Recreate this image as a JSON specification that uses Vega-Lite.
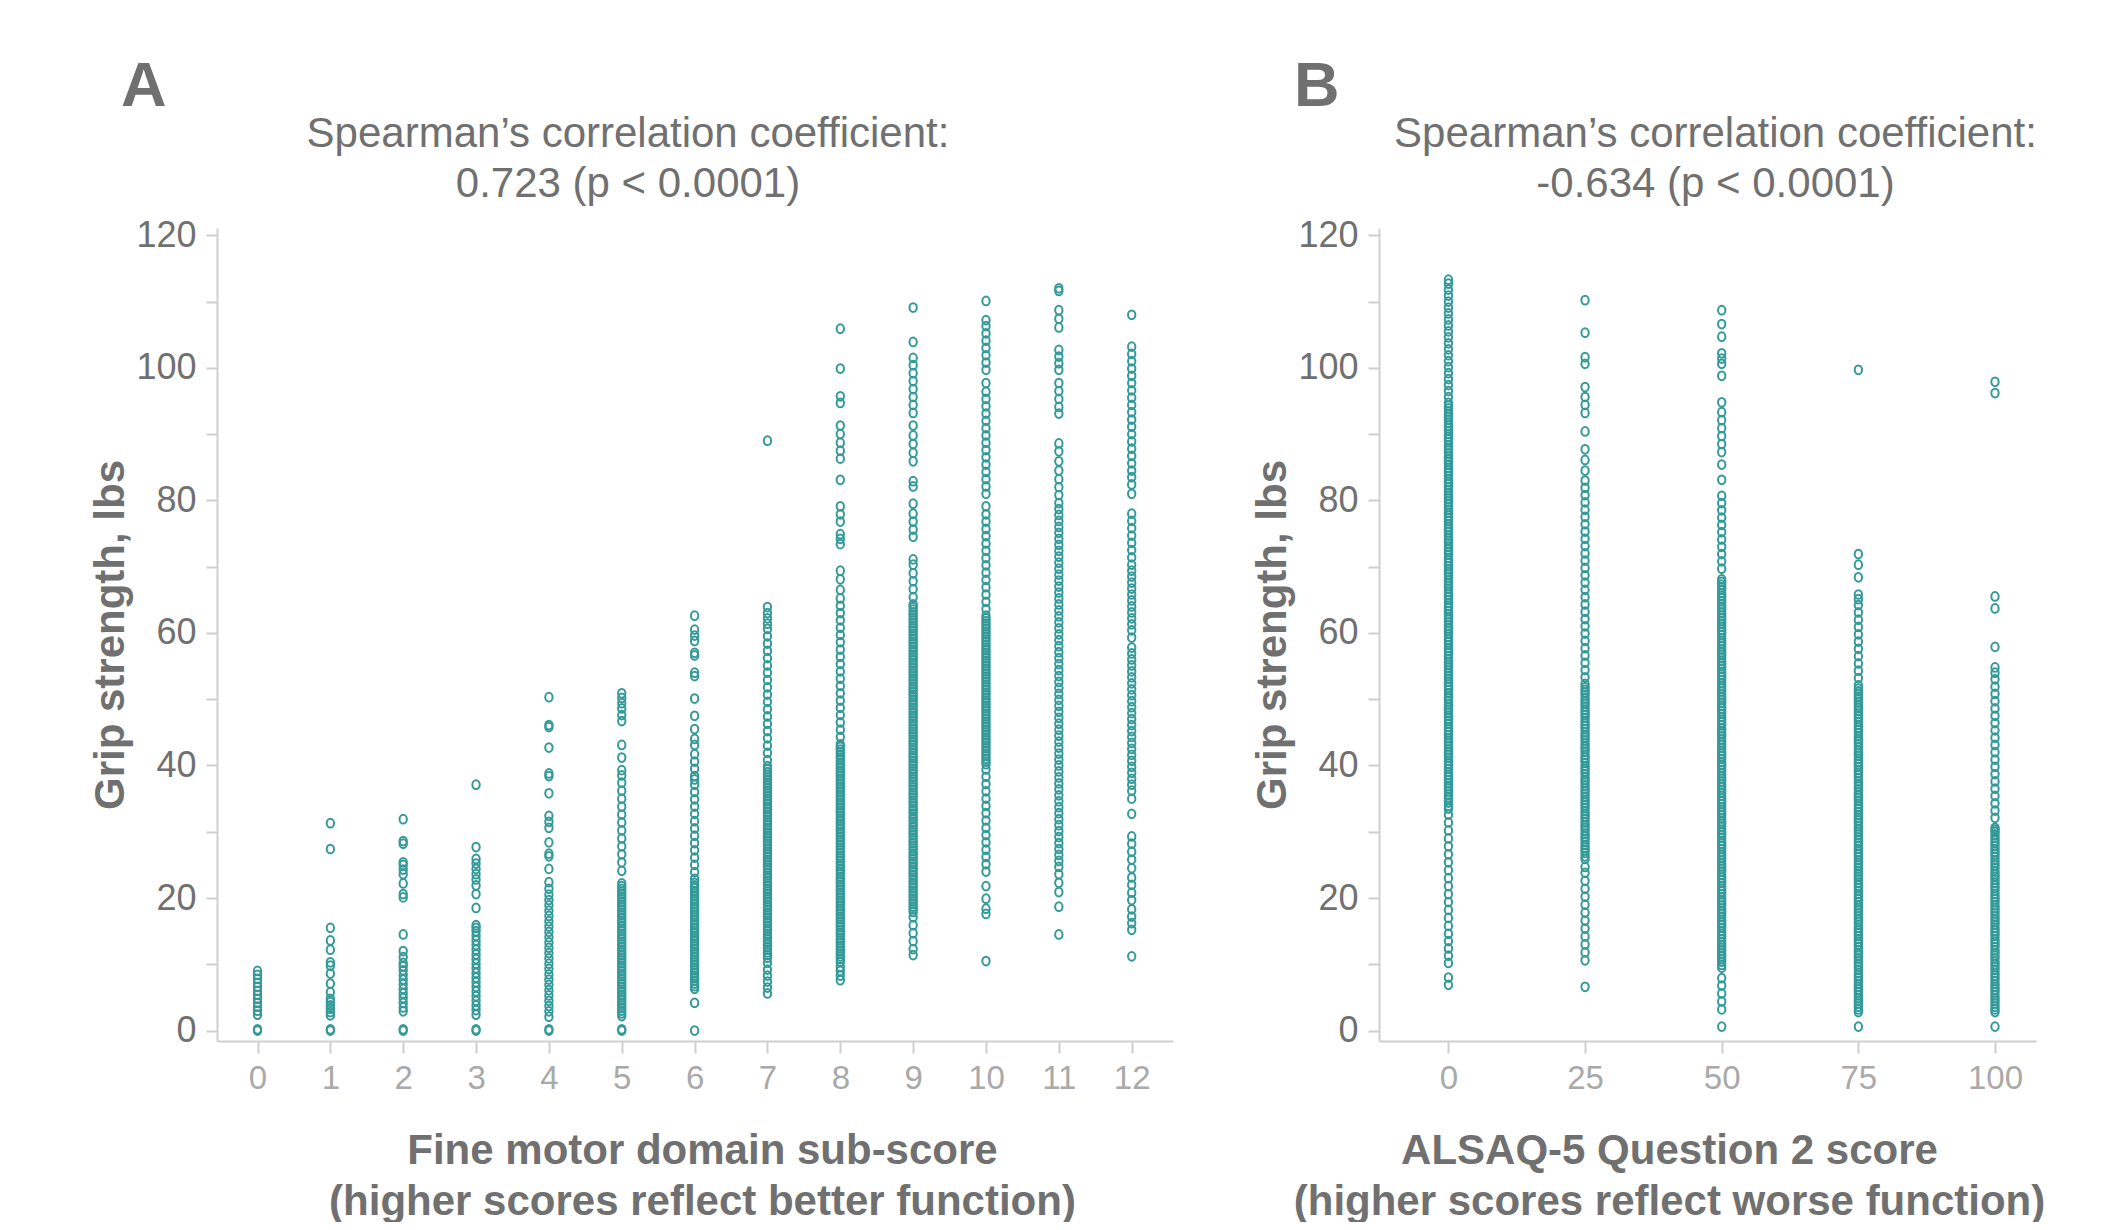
{
"$schema": "https://vega.github.io/schema/vega-lite/v6.json",
"background": "white",
"padding": {"left": 89, "top": 56, "right": 0, "bottom": 0},
"spacing": 78,
"config": {
  "view": {"stroke": null},
  "font": "Liberation Sans",
  "axis": {"grid": false, "domainColor": "#cfcfcf", "domainWidth": 2, "tickColor": "#cfcfcf", "tickWidth": 2, "titleFont": "Liberation Sans", "titleFontSize": 42, "titleFontWeight": "bold", "titleColor": "#707070", "labelFont": "Liberation Sans", "labelOverlap": false, "labelFlush": false},
  "axisX": {"labelFontSize": 33, "labelColor": "#a9a9a9", "tickSize": 12, "labelPadding": 9, "titlePadding": 35, "titleLineHeight": 51, "labelAngle": 0},
  "axisY": {"labelFontSize": 36, "labelColor": "#707070", "tickSize": 11, "labelPadding": 10, "titlePadding": 3},
  "title": {"font": "Liberation Sans", "color": "#707070"}
},
"datasets": {
"a": [
{"s":0,"g":0},{"s":0,"g":0.2},{"s":0,"g":2.4},{"s":0,"g":3.0},{"s":0,"g":3.6},{"s":0,"g":4.2},{"s":0,"g":4.8},{"s":0,"g":5.4},{"s":0,"g":6.0},{"s":0,"g":6.6},{"s":0,"g":7.2},{"s":0,"g":7.8},{"s":0,"g":8.4},{"s":0,"g":9.0},
{"s":1,"g":0},{"s":1,"g":0.2},{"s":1,"g":2.3},{"s":1,"g":2.8},{"s":1,"g":3.3},{"s":1,"g":3.8},{"s":1,"g":4.3},{"s":1,"g":4.8},{"s":1,"g":5.8},{"s":1,"g":7.1},{"s":1,"g":8.6},{"s":1,"g":9.8},{"s":1,"g":10.3},{"s":1,"g":12.2},{"s":1,"g":13.6},{"s":1,"g":15.5},{"s":1,"g":27.4},{"s":1,"g":31.3},
{"s":2,"g":0},{"s":2,"g":0.2},{"s":2,"g":2.9},{"s":2,"g":3.5},{"s":2,"g":4.2},{"s":2,"g":4.9},{"s":2,"g":5.6},{"s":2,"g":6.3},{"s":2,"g":7.0},{"s":2,"g":7.7},{"s":2,"g":8.4},{"s":2,"g":9.1},{"s":2,"g":9.7},{"s":2,"g":10.2},{"s":2,"g":11.1},{"s":2,"g":12.0},{"s":2,"g":14.5},{"s":2,"g":20.1},{"s":2,"g":20.6},{"s":2,"g":22.2},{"s":2,"g":23.6},{"s":2,"g":24.3},{"s":2,"g":25.0},{"s":2,"g":25.4},{"s":2,"g":28.2},{"s":2,"g":28.6},{"s":2,"g":31.9},
{"s":3,"g":0},{"s":3,"g":0.2},{"s":3,"g":2.4},{"s":3,"g":3.1},{"s":3,"g":3.8},{"s":3,"g":4.5},{"s":3,"g":5.2},{"s":3,"g":5.9},{"s":3,"g":6.6},{"s":3,"g":7.3},{"s":3,"g":8.0},{"s":3,"g":8.7},{"s":3,"g":9.4},{"s":3,"g":10.1},{"s":3,"g":10.8},{"s":3,"g":11.5},{"s":3,"g":12.2},{"s":3,"g":12.9},{"s":3,"g":13.6},{"s":3,"g":14.3},{"s":3,"g":15.0},{"s":3,"g":15.5},{"s":3,"g":15.9},{"s":3,"g":18.5},{"s":3,"g":20.6},{"s":3,"g":21.9},{"s":3,"g":22.8},{"s":3,"g":23.6},{"s":3,"g":24.4},{"s":3,"g":25.2},{"s":3,"g":25.9},{"s":3,"g":27.7},{"s":3,"g":37.1},
{"s":4,"g":0},{"s":4,"g":0.2},{"s":4,"g":2.1},{"s":4,"g":2.9},{"s":4,"g":3.7},{"s":4,"g":4.5},{"s":4,"g":5.3},{"s":4,"g":6.1},{"s":4,"g":6.9},{"s":4,"g":7.7},{"s":4,"g":8.5},{"s":4,"g":9.3},{"s":4,"g":10.1},{"s":4,"g":10.9},{"s":4,"g":11.7},{"s":4,"g":12.5},{"s":4,"g":13.3},{"s":4,"g":14.1},{"s":4,"g":14.9},{"s":4,"g":15.7},{"s":4,"g":16.5},{"s":4,"g":17.3},{"s":4,"g":18.1},{"s":4,"g":18.9},{"s":4,"g":19.7},{"s":4,"g":20.5},{"s":4,"g":21.4},{"s":4,"g":22.4},{"s":4,"g":24.4},{"s":4,"g":26.3},{"s":4,"g":26.7},{"s":4,"g":28.4},{"s":4,"g":30.6},{"s":4,"g":31.5},{"s":4,"g":32.4},{"s":4,"g":35.8},{"s":4,"g":38.4},{"s":4,"g":38.8},{"s":4,"g":42.7},{"s":4,"g":45.8},{"s":4,"g":46.1},{"s":4,"g":50.3},
{"s":5,"g":0},{"s":5,"g":0.2},{"s":5,"g":2.2},{"s":5,"g":3.0},{"s":5,"g":3.8},{"s":5,"g":4.6},{"s":5,"g":5.4},{"s":5,"g":6.2},{"s":5,"g":7.0},{"s":5,"g":7.8},{"s":5,"g":8.6},{"s":5,"g":9.4},{"s":5,"g":10.2},{"s":5,"g":11.0},{"s":5,"g":11.8},{"s":5,"g":12.6},{"s":5,"g":13.4},{"s":5,"g":14.2},{"s":5,"g":15.0},{"s":5,"g":15.8},{"s":5,"g":16.6},{"s":5,"g":17.4},{"s":5,"g":18.2},{"s":5,"g":19.0},{"s":5,"g":19.8},{"s":5,"g":20.6},{"s":5,"g":21.4},{"s":5,"g":22.2},{"s":5,"g":24.1},{"s":5,"g":25.4},{"s":5,"g":26.6},{"s":5,"g":27.8},{"s":5,"g":29.0},{"s":5,"g":30.2},{"s":5,"g":31.4},{"s":5,"g":32.6},{"s":5,"g":33.8},{"s":5,"g":35.0},{"s":5,"g":36.2},{"s":5,"g":37.4},{"s":5,"g":38.5},{"s":5,"g":39.3},{"s":5,"g":41.2},{"s":5,"g":43.1},{"s":5,"g":46.7},{"s":5,"g":47.6},{"s":5,"g":48.6},{"s":5,"g":49.4},{"s":5,"g":50.2},{"s":5,"g":50.9},
{"s":5,"g":2.6},{"s":5,"g":3.4},{"s":5,"g":4.2},{"s":5,"g":5.0},{"s":5,"g":5.8},{"s":5,"g":6.6},{"s":5,"g":7.4},{"s":5,"g":8.2},{"s":5,"g":9.0},{"s":5,"g":9.8},{"s":5,"g":10.6},{"s":5,"g":11.4},{"s":5,"g":12.2},{"s":5,"g":13.0},{"s":5,"g":13.8},{"s":5,"g":14.6},{"s":5,"g":15.4},{"s":5,"g":16.2},{"s":5,"g":17.0},{"s":5,"g":17.8},{"s":5,"g":18.6},{"s":5,"g":19.4},{"s":5,"g":20.2},{"s":5,"g":21.0},{"s":5,"g":21.8},
{"s":6,"g":0},{"s":6,"g":4.2},{"s":6,"g":6.3},{"s":6,"g":7.1},{"s":6,"g":7.9},{"s":6,"g":8.7},{"s":6,"g":9.5},{"s":6,"g":10.3},{"s":6,"g":11.1},{"s":6,"g":11.9},{"s":6,"g":12.7},{"s":6,"g":13.5},{"s":6,"g":14.3},{"s":6,"g":15.1},{"s":6,"g":15.9},{"s":6,"g":16.7},{"s":6,"g":17.5},{"s":6,"g":18.3},{"s":6,"g":19.1},{"s":6,"g":19.9},{"s":6,"g":20.7},{"s":6,"g":21.5},{"s":6,"g":22.3},{"s":6,"g":22.9},{"s":6,"g":23.9},{"s":6,"g":25.0},{"s":6,"g":26.1},{"s":6,"g":27.2},{"s":6,"g":28.3},{"s":6,"g":29.4},{"s":6,"g":30.5},{"s":6,"g":31.6},{"s":6,"g":32.7},{"s":6,"g":33.8},{"s":6,"g":34.9},{"s":6,"g":36.0},{"s":6,"g":37.1},{"s":6,"g":37.9},{"s":6,"g":38.4},{"s":6,"g":39.5},{"s":6,"g":40.6},{"s":6,"g":41.7},{"s":6,"g":43.1},{"s":6,"g":44.0},{"s":6,"g":45.5},{"s":6,"g":47.5},{"s":6,"g":50.1},{"s":6,"g":53.5},{"s":6,"g":54.0},{"s":6,"g":56.6},{"s":6,"g":57.0},{"s":6,"g":58.8},{"s":6,"g":59.6},{"s":6,"g":60.5},{"s":6,"g":62.6},
{"s":6,"g":6.7},{"s":6,"g":7.5},{"s":6,"g":8.3},{"s":6,"g":9.1},{"s":6,"g":9.9},{"s":6,"g":10.7},{"s":6,"g":11.5},{"s":6,"g":12.3},{"s":6,"g":13.1},{"s":6,"g":13.9},{"s":6,"g":14.7},{"s":6,"g":15.5},{"s":6,"g":16.3},{"s":6,"g":17.1},{"s":6,"g":17.9},{"s":6,"g":18.7},{"s":6,"g":19.5},{"s":6,"g":20.3},{"s":6,"g":21.1},{"s":6,"g":21.9},
{"s":7,"g":5.6},{"s":7,"g":6.5},{"s":7,"g":7.4},{"s":7,"g":8.3},{"s":7,"g":9.2},{"s":7,"g":10.2},{"s":7,"g":11.0},{"s":7,"g":11.8},{"s":7,"g":12.6},{"s":7,"g":13.4},{"s":7,"g":14.2},{"s":7,"g":15.0},{"s":7,"g":15.8},{"s":7,"g":16.6},{"s":7,"g":17.4},{"s":7,"g":18.2},{"s":7,"g":19.0},{"s":7,"g":19.8},{"s":7,"g":20.6},{"s":7,"g":21.4},{"s":7,"g":22.2},{"s":7,"g":23.0},{"s":7,"g":23.8},{"s":7,"g":24.6},{"s":7,"g":25.4},{"s":7,"g":26.2},{"s":7,"g":27.0},{"s":7,"g":27.8},{"s":7,"g":28.6},{"s":7,"g":29.4},{"s":7,"g":30.2},{"s":7,"g":31.0},{"s":7,"g":31.8},{"s":7,"g":32.6},{"s":7,"g":33.4},{"s":7,"g":34.2},{"s":7,"g":35.0},{"s":7,"g":35.8},{"s":7,"g":36.6},{"s":7,"g":37.4},{"s":7,"g":38.2},{"s":7,"g":39.0},{"s":7,"g":39.9},{"s":7,"g":40.8},{"s":7,"g":41.9},{"s":7,"g":43.0},{"s":7,"g":44.1},{"s":7,"g":45.2},{"s":7,"g":46.3},{"s":7,"g":47.4},{"s":7,"g":48.5},{"s":7,"g":49.6},{"s":7,"g":50.7},{"s":7,"g":51.8},{"s":7,"g":52.9},{"s":7,"g":54.0},{"s":7,"g":55.1},{"s":7,"g":56.2},{"s":7,"g":57.3},{"s":7,"g":58.4},{"s":7,"g":59.5},{"s":7,"g":60.6},{"s":7,"g":61.4},{"s":7,"g":62.2},{"s":7,"g":63.0},{"s":7,"g":63.9},{"s":7,"g":89.0},
{"s":7,"g":11.4},{"s":7,"g":12.2},{"s":7,"g":13.0},{"s":7,"g":13.8},{"s":7,"g":14.6},{"s":7,"g":15.4},{"s":7,"g":16.2},{"s":7,"g":17.0},{"s":7,"g":17.8},{"s":7,"g":18.6},{"s":7,"g":19.4},{"s":7,"g":20.2},{"s":7,"g":21.0},{"s":7,"g":21.8},{"s":7,"g":22.6},{"s":7,"g":23.4},{"s":7,"g":24.2},{"s":7,"g":25.0},{"s":7,"g":25.8},{"s":7,"g":26.6},{"s":7,"g":27.4},{"s":7,"g":28.2},{"s":7,"g":29.0},{"s":7,"g":29.8},{"s":7,"g":30.6},{"s":7,"g":31.4},{"s":7,"g":32.2},{"s":7,"g":33.0},{"s":7,"g":33.8},{"s":7,"g":34.6},{"s":7,"g":35.4},{"s":7,"g":36.2},{"s":7,"g":37.0},{"s":7,"g":37.8},{"s":7,"g":38.6},{"s":7,"g":39.4},
{"s":8,"g":7.6},{"s":8,"g":8.3},{"s":8,"g":9.0},{"s":8,"g":9.6},{"s":8,"g":10.4},{"s":8,"g":11.2},{"s":8,"g":12.0},{"s":8,"g":12.8},{"s":8,"g":13.6},{"s":8,"g":14.4},{"s":8,"g":15.2},{"s":8,"g":16.0},{"s":8,"g":16.8},{"s":8,"g":17.6},{"s":8,"g":18.4},{"s":8,"g":19.2},{"s":8,"g":20.0},{"s":8,"g":20.8},{"s":8,"g":21.6},{"s":8,"g":22.4},{"s":8,"g":23.2},{"s":8,"g":24.0},{"s":8,"g":24.8},{"s":8,"g":25.6},{"s":8,"g":26.4},{"s":8,"g":27.2},{"s":8,"g":28.0},{"s":8,"g":28.8},{"s":8,"g":29.6},{"s":8,"g":30.4},{"s":8,"g":31.2},{"s":8,"g":32.0},{"s":8,"g":32.8},{"s":8,"g":33.6},{"s":8,"g":34.4},{"s":8,"g":35.2},{"s":8,"g":36.0},{"s":8,"g":36.8},{"s":8,"g":37.6},{"s":8,"g":38.4},{"s":8,"g":39.2},{"s":8,"g":40.0},{"s":8,"g":40.8},{"s":8,"g":41.6},{"s":8,"g":42.4},{"s":8,"g":43.2},{"s":8,"g":44.3},{"s":8,"g":45.4},{"s":8,"g":46.5},{"s":8,"g":47.6},{"s":8,"g":48.7},{"s":8,"g":49.8},{"s":8,"g":50.9},{"s":8,"g":52.0},{"s":8,"g":53.1},{"s":8,"g":54.2},{"s":8,"g":55.3},{"s":8,"g":56.4},{"s":8,"g":57.5},{"s":8,"g":58.6},{"s":8,"g":59.7},{"s":8,"g":60.8},{"s":8,"g":61.9},{"s":8,"g":63.0},{"s":8,"g":64.1},{"s":8,"g":65.2},{"s":8,"g":66.5},{"s":8,"g":68.1},{"s":8,"g":69.4},{"s":8,"g":73.4},{"s":8,"g":74.2},{"s":8,"g":74.9},{"s":8,"g":76.8},{"s":8,"g":77.9},{"s":8,"g":79.1},{"s":8,"g":83.1},{"s":8,"g":86.3},{"s":8,"g":87.5},{"s":8,"g":88.7},{"s":8,"g":90.0},{"s":8,"g":91.3},{"s":8,"g":94.7},{"s":8,"g":95.7},{"s":8,"g":99.9},{"s":8,"g":105.9},
{"s":8,"g":10.8},{"s":8,"g":11.6},{"s":8,"g":12.4},{"s":8,"g":13.2},{"s":8,"g":14.0},{"s":8,"g":14.8},{"s":8,"g":15.6},{"s":8,"g":16.4},{"s":8,"g":17.2},{"s":8,"g":18.0},{"s":8,"g":18.8},{"s":8,"g":19.6},{"s":8,"g":20.4},{"s":8,"g":21.2},{"s":8,"g":22.0},{"s":8,"g":22.8},{"s":8,"g":23.6},{"s":8,"g":24.4},{"s":8,"g":25.2},{"s":8,"g":26.0},{"s":8,"g":26.8},{"s":8,"g":27.6},{"s":8,"g":28.4},{"s":8,"g":29.2},{"s":8,"g":30.0},{"s":8,"g":30.8},{"s":8,"g":31.6},{"s":8,"g":32.4},{"s":8,"g":33.2},{"s":8,"g":34.0},{"s":8,"g":34.8},{"s":8,"g":35.6},{"s":8,"g":36.4},{"s":8,"g":37.2},{"s":8,"g":38.0},{"s":8,"g":38.8},{"s":8,"g":39.6},{"s":8,"g":40.4},{"s":8,"g":41.2},{"s":8,"g":42.0},{"s":8,"g":42.8},
{"s":9,"g":11.4},{"s":9,"g":12.3},{"s":9,"g":13.5},{"s":9,"g":14.7},{"s":9,"g":15.9},{"s":9,"g":17.1},{"s":9,"g":17.9},{"s":9,"g":18.7},{"s":9,"g":19.5},{"s":9,"g":20.3},{"s":9,"g":21.1},{"s":9,"g":21.9},{"s":9,"g":22.7},{"s":9,"g":23.5},{"s":9,"g":24.3},{"s":9,"g":25.1},{"s":9,"g":25.9},{"s":9,"g":26.7},{"s":9,"g":27.5},{"s":9,"g":28.3},{"s":9,"g":29.1},{"s":9,"g":29.9},{"s":9,"g":30.7},{"s":9,"g":31.5},{"s":9,"g":32.3},{"s":9,"g":33.1},{"s":9,"g":33.9},{"s":9,"g":34.7},{"s":9,"g":35.5},{"s":9,"g":36.3},{"s":9,"g":37.1},{"s":9,"g":37.9},{"s":9,"g":38.7},{"s":9,"g":39.5},{"s":9,"g":40.3},{"s":9,"g":41.1},{"s":9,"g":41.9},{"s":9,"g":42.7},{"s":9,"g":43.5},{"s":9,"g":44.3},{"s":9,"g":45.1},{"s":9,"g":45.9},{"s":9,"g":46.7},{"s":9,"g":47.5},{"s":9,"g":48.3},{"s":9,"g":49.1},{"s":9,"g":49.9},{"s":9,"g":50.7},{"s":9,"g":51.5},{"s":9,"g":52.3},{"s":9,"g":53.1},{"s":9,"g":53.9},{"s":9,"g":54.7},{"s":9,"g":55.5},{"s":9,"g":56.3},{"s":9,"g":57.1},{"s":9,"g":57.9},{"s":9,"g":58.7},{"s":9,"g":59.5},{"s":9,"g":60.3},{"s":9,"g":61.1},{"s":9,"g":61.9},{"s":9,"g":62.7},{"s":9,"g":63.5},{"s":9,"g":64.3},{"s":9,"g":65.4},{"s":9,"g":66.6},{"s":9,"g":67.8},{"s":9,"g":69.0},{"s":9,"g":70.3},{"s":9,"g":71.1},{"s":9,"g":74.5},{"s":9,"g":75.6},{"s":9,"g":76.8},{"s":9,"g":78.0},{"s":9,"g":79.5},{"s":9,"g":82.1},{"s":9,"g":82.9},{"s":9,"g":85.9},{"s":9,"g":87.2},{"s":9,"g":88.5},{"s":9,"g":89.8},{"s":9,"g":91.3},{"s":9,"g":93.2},{"s":9,"g":94.4},{"s":9,"g":95.6},{"s":9,"g":96.8},{"s":9,"g":98.0},{"s":9,"g":99.2},{"s":9,"g":100.4},{"s":9,"g":101.5},{"s":9,"g":103.9},{"s":9,"g":109.1},
{"s":9,"g":18.3},{"s":9,"g":19.1},{"s":9,"g":19.9},{"s":9,"g":20.7},{"s":9,"g":21.5},{"s":9,"g":22.3},{"s":9,"g":23.1},{"s":9,"g":23.9},{"s":9,"g":24.7},{"s":9,"g":25.5},{"s":9,"g":26.3},{"s":9,"g":27.1},{"s":9,"g":27.9},{"s":9,"g":28.7},{"s":9,"g":29.5},{"s":9,"g":30.3},{"s":9,"g":31.1},{"s":9,"g":31.9},{"s":9,"g":32.7},{"s":9,"g":33.5},{"s":9,"g":34.3},{"s":9,"g":35.1},{"s":9,"g":35.9},{"s":9,"g":36.7},{"s":9,"g":37.5},{"s":9,"g":38.3},{"s":9,"g":39.1},{"s":9,"g":39.9},{"s":9,"g":40.7},{"s":9,"g":41.5},{"s":9,"g":42.3},{"s":9,"g":43.1},{"s":9,"g":43.9},{"s":9,"g":44.7},{"s":9,"g":45.5},{"s":9,"g":46.3},{"s":9,"g":47.1},{"s":9,"g":47.9},{"s":9,"g":48.7},{"s":9,"g":49.5},{"s":9,"g":50.3},{"s":9,"g":51.1},{"s":9,"g":51.9},{"s":9,"g":52.7},{"s":9,"g":53.5},{"s":9,"g":54.3},{"s":9,"g":55.1},{"s":9,"g":55.9},{"s":9,"g":56.7},{"s":9,"g":57.5},{"s":9,"g":58.3},{"s":9,"g":59.1},{"s":9,"g":59.9},{"s":9,"g":60.7},{"s":9,"g":61.5},{"s":9,"g":62.3},{"s":9,"g":63.1},{"s":9,"g":63.9},
{"s":10,"g":10.5},{"s":10,"g":17.6},{"s":10,"g":18.4},{"s":10,"g":19.9},{"s":10,"g":21.8},{"s":10,"g":24.0},{"s":10,"g":25.1},{"s":10,"g":26.2},{"s":10,"g":27.3},{"s":10,"g":28.4},{"s":10,"g":29.5},{"s":10,"g":30.6},{"s":10,"g":31.7},{"s":10,"g":32.8},{"s":10,"g":33.9},{"s":10,"g":35.0},{"s":10,"g":36.1},{"s":10,"g":37.2},{"s":10,"g":38.3},{"s":10,"g":39.4},{"s":10,"g":40.2},{"s":10,"g":41.0},{"s":10,"g":41.8},{"s":10,"g":42.6},{"s":10,"g":43.4},{"s":10,"g":44.2},{"s":10,"g":45.0},{"s":10,"g":45.8},{"s":10,"g":46.6},{"s":10,"g":47.4},{"s":10,"g":48.2},{"s":10,"g":49.0},{"s":10,"g":49.8},{"s":10,"g":50.6},{"s":10,"g":51.4},{"s":10,"g":52.2},{"s":10,"g":53.0},{"s":10,"g":53.8},{"s":10,"g":54.6},{"s":10,"g":55.4},{"s":10,"g":56.2},{"s":10,"g":57.0},{"s":10,"g":57.8},{"s":10,"g":58.6},{"s":10,"g":59.4},{"s":10,"g":60.2},{"s":10,"g":61.0},{"s":10,"g":61.8},{"s":10,"g":62.6},{"s":10,"g":63.6},{"s":10,"g":64.7},{"s":10,"g":65.8},{"s":10,"g":66.9},{"s":10,"g":68.0},{"s":10,"g":69.1},{"s":10,"g":70.2},{"s":10,"g":71.3},{"s":10,"g":72.4},{"s":10,"g":73.5},{"s":10,"g":74.6},{"s":10,"g":75.7},{"s":10,"g":76.8},{"s":10,"g":77.9},{"s":10,"g":79.1},{"s":10,"g":81.0},{"s":10,"g":82.1},{"s":10,"g":83.2},{"s":10,"g":84.3},{"s":10,"g":85.4},{"s":10,"g":86.5},{"s":10,"g":87.6},{"s":10,"g":88.7},{"s":10,"g":89.8},{"s":10,"g":90.9},{"s":10,"g":92.0},{"s":10,"g":93.1},{"s":10,"g":94.2},{"s":10,"g":95.3},{"s":10,"g":96.4},{"s":10,"g":97.7},{"s":10,"g":99.7},{"s":10,"g":100.8},{"s":10,"g":101.9},{"s":10,"g":103.0},{"s":10,"g":104.1},{"s":10,"g":105.2},{"s":10,"g":106.3},{"s":10,"g":107.2},{"s":10,"g":110.1},
{"s":10,"g":40.6},{"s":10,"g":41.4},{"s":10,"g":42.2},{"s":10,"g":43.0},{"s":10,"g":43.8},{"s":10,"g":44.6},{"s":10,"g":45.4},{"s":10,"g":46.2},{"s":10,"g":47.0},{"s":10,"g":47.8},{"s":10,"g":48.6},{"s":10,"g":49.4},{"s":10,"g":50.2},{"s":10,"g":51.0},{"s":10,"g":51.8},{"s":10,"g":52.6},{"s":10,"g":53.4},{"s":10,"g":54.2},{"s":10,"g":55.0},{"s":10,"g":55.8},{"s":10,"g":56.6},{"s":10,"g":57.4},{"s":10,"g":58.2},{"s":10,"g":59.0},{"s":10,"g":59.8},{"s":10,"g":60.6},{"s":10,"g":61.4},{"s":10,"g":62.2},
{"s":11,"g":14.5},{"s":11,"g":18.7},{"s":11,"g":20.9},{"s":11,"g":22.3},{"s":11,"g":23.6},{"s":11,"g":24.7},{"s":11,"g":25.6},{"s":11,"g":26.5},{"s":11,"g":27.4},{"s":11,"g":28.3},{"s":11,"g":29.2},{"s":11,"g":30.1},{"s":11,"g":31.0},{"s":11,"g":31.9},{"s":11,"g":32.8},{"s":11,"g":33.7},{"s":11,"g":34.6},{"s":11,"g":35.5},{"s":11,"g":36.4},{"s":11,"g":37.3},{"s":11,"g":38.2},{"s":11,"g":39.1},{"s":11,"g":40.0},{"s":11,"g":40.9},{"s":11,"g":41.8},{"s":11,"g":42.7},{"s":11,"g":43.6},{"s":11,"g":44.5},{"s":11,"g":45.4},{"s":11,"g":46.3},{"s":11,"g":47.2},{"s":11,"g":48.1},{"s":11,"g":49.0},{"s":11,"g":49.9},{"s":11,"g":50.8},{"s":11,"g":51.7},{"s":11,"g":52.6},{"s":11,"g":53.5},{"s":11,"g":54.4},{"s":11,"g":55.3},{"s":11,"g":56.2},{"s":11,"g":57.1},{"s":11,"g":58.0},{"s":11,"g":58.9},{"s":11,"g":59.8},{"s":11,"g":60.7},{"s":11,"g":61.6},{"s":11,"g":62.5},{"s":11,"g":63.4},{"s":11,"g":64.3},{"s":11,"g":65.2},{"s":11,"g":66.1},{"s":11,"g":67.0},{"s":11,"g":67.9},{"s":11,"g":68.8},{"s":11,"g":69.7},{"s":11,"g":70.6},{"s":11,"g":71.5},{"s":11,"g":72.4},{"s":11,"g":73.3},{"s":11,"g":74.2},{"s":11,"g":75.1},{"s":11,"g":76.0},{"s":11,"g":76.9},{"s":11,"g":77.8},{"s":11,"g":78.7},{"s":11,"g":79.6},{"s":11,"g":80.8},{"s":11,"g":82.0},{"s":11,"g":83.2},{"s":11,"g":84.5},{"s":11,"g":85.9},{"s":11,"g":87.4},{"s":11,"g":88.6},{"s":11,"g":93.1},{"s":11,"g":94.1},{"s":11,"g":95.3},{"s":11,"g":96.5},{"s":11,"g":97.7},{"s":11,"g":99.7},{"s":11,"g":100.7},{"s":11,"g":101.7},{"s":11,"g":102.7},{"s":11,"g":106.1},{"s":11,"g":107.4},{"s":11,"g":108.7},{"s":11,"g":111.6},{"s":11,"g":112.0},
{"s":12,"g":11.2},{"s":12,"g":15.2},{"s":12,"g":16.2},{"s":12,"g":17.2},{"s":12,"g":18.3},{"s":12,"g":19.7},{"s":12,"g":20.8},{"s":12,"g":22.0},{"s":12,"g":23.1},{"s":12,"g":24.5},{"s":12,"g":25.8},{"s":12,"g":27.0},{"s":12,"g":28.2},{"s":12,"g":29.3},{"s":12,"g":32.7},{"s":12,"g":35.0},{"s":12,"g":36.2},{"s":12,"g":37.1},{"s":12,"g":38.0},{"s":12,"g":38.9},{"s":12,"g":39.8},{"s":12,"g":40.7},{"s":12,"g":41.6},{"s":12,"g":42.5},{"s":12,"g":43.4},{"s":12,"g":44.3},{"s":12,"g":45.2},{"s":12,"g":46.1},{"s":12,"g":47.0},{"s":12,"g":47.9},{"s":12,"g":48.8},{"s":12,"g":49.7},{"s":12,"g":50.6},{"s":12,"g":51.5},{"s":12,"g":52.4},{"s":12,"g":53.3},{"s":12,"g":54.2},{"s":12,"g":55.1},{"s":12,"g":56.0},{"s":12,"g":56.9},{"s":12,"g":57.8},{"s":12,"g":59.3},{"s":12,"g":60.4},{"s":12,"g":61.3},{"s":12,"g":62.2},{"s":12,"g":63.1},{"s":12,"g":64.0},{"s":12,"g":64.9},{"s":12,"g":65.8},{"s":12,"g":66.7},{"s":12,"g":67.6},{"s":12,"g":68.5},{"s":12,"g":69.4},{"s":12,"g":70.3},{"s":12,"g":71.4},{"s":12,"g":72.5},{"s":12,"g":73.6},{"s":12,"g":74.7},{"s":12,"g":75.8},{"s":12,"g":76.9},{"s":12,"g":78.0},{"s":12,"g":81.0},{"s":12,"g":82.4},{"s":12,"g":83.5},{"s":12,"g":84.5},{"s":12,"g":85.6},{"s":12,"g":86.7},{"s":12,"g":87.8},{"s":12,"g":88.9},{"s":12,"g":90.0},{"s":12,"g":91.1},{"s":12,"g":92.2},{"s":12,"g":93.3},{"s":12,"g":94.4},{"s":12,"g":95.5},{"s":12,"g":96.6},{"s":12,"g":97.7},{"s":12,"g":98.8},{"s":12,"g":99.9},{"s":12,"g":101.0},{"s":12,"g":102.1},{"s":12,"g":103.2},{"s":12,"g":108.0}
],
"b": [
{"s":0,"g":6.9},{"s":0,"g":8.0},{"s":0,"g":10.2},{"s":0,"g":11.3},{"s":0,"g":12.4},{"s":0,"g":13.5},{"s":0,"g":14.6},{"s":0,"g":15.8},{"s":0,"g":17.0},{"s":0,"g":18.2},{"s":0,"g":19.4},{"s":0,"g":20.6},{"s":0,"g":21.8},{"s":0,"g":23.0},{"s":0,"g":24.2},{"s":0,"g":25.4},{"s":0,"g":26.6},{"s":0,"g":27.8},{"s":0,"g":29.0},{"s":0,"g":30.2},{"s":0,"g":31.4},{"s":0,"g":32.6},{"s":0,"g":33.5},{"s":0,"g":34.4},{"s":0,"g":35.2},{"s":0,"g":36.1},{"s":0,"g":36.9},{"s":0,"g":37.8},{"s":0,"g":38.6},{"s":0,"g":39.5},{"s":0,"g":40.3},{"s":0,"g":41.2},{"s":0,"g":42.0},{"s":0,"g":42.9},{"s":0,"g":43.7},{"s":0,"g":44.6},{"s":0,"g":45.4},{"s":0,"g":46.3},{"s":0,"g":47.1},{"s":0,"g":48.0},{"s":0,"g":48.8},{"s":0,"g":49.7},{"s":0,"g":50.5},{"s":0,"g":51.4},{"s":0,"g":52.2},{"s":0,"g":53.1},{"s":0,"g":53.9},{"s":0,"g":54.8},{"s":0,"g":55.6},{"s":0,"g":56.5},{"s":0,"g":57.3},{"s":0,"g":58.2},{"s":0,"g":59.0},{"s":0,"g":59.9},{"s":0,"g":60.7},{"s":0,"g":61.6},{"s":0,"g":62.4},{"s":0,"g":63.3},{"s":0,"g":64.1},{"s":0,"g":65.0},{"s":0,"g":65.8},{"s":0,"g":66.7},{"s":0,"g":67.5},{"s":0,"g":68.4},{"s":0,"g":69.2},{"s":0,"g":70.1},{"s":0,"g":70.9},{"s":0,"g":71.8},{"s":0,"g":72.6},{"s":0,"g":73.5},{"s":0,"g":74.3},{"s":0,"g":75.2},{"s":0,"g":76.0},{"s":0,"g":76.9},{"s":0,"g":77.7},{"s":0,"g":78.6},{"s":0,"g":79.4},{"s":0,"g":80.3},{"s":0,"g":81.1},{"s":0,"g":82.0},{"s":0,"g":82.8},{"s":0,"g":83.7},{"s":0,"g":84.5},{"s":0,"g":85.4},{"s":0,"g":86.2},{"s":0,"g":87.1},{"s":0,"g":87.9},{"s":0,"g":88.8},{"s":0,"g":89.6},{"s":0,"g":90.5},{"s":0,"g":91.3},{"s":0,"g":92.2},{"s":0,"g":93.0},{"s":0,"g":93.9},{"s":0,"g":94.7},{"s":0,"g":95.6},{"s":0,"g":96.5},{"s":0,"g":97.4},{"s":0,"g":98.3},{"s":0,"g":99.2},{"s":0,"g":100.1},{"s":0,"g":101.0},{"s":0,"g":101.9},{"s":0,"g":102.8},{"s":0,"g":103.7},{"s":0,"g":104.6},{"s":0,"g":105.5},{"s":0,"g":106.4},{"s":0,"g":107.3},{"s":0,"g":108.2},{"s":0,"g":109.1},{"s":0,"g":110.0},{"s":0,"g":110.9},{"s":0,"g":111.8},{"s":0,"g":112.7},{"s":0,"g":113.3},
{"s":0,"g":33.9},{"s":0,"g":34.8},{"s":0,"g":35.6},{"s":0,"g":36.5},{"s":0,"g":37.3},{"s":0,"g":38.2},{"s":0,"g":39.0},{"s":0,"g":39.9},{"s":0,"g":40.7},{"s":0,"g":41.6},{"s":0,"g":42.4},{"s":0,"g":43.3},{"s":0,"g":44.1},{"s":0,"g":45.0},{"s":0,"g":45.8},{"s":0,"g":46.7},{"s":0,"g":47.5},{"s":0,"g":48.4},{"s":0,"g":49.2},{"s":0,"g":50.1},{"s":0,"g":50.9},{"s":0,"g":51.8},{"s":0,"g":52.6},{"s":0,"g":53.5},{"s":0,"g":54.3},{"s":0,"g":55.2},{"s":0,"g":56.0},{"s":0,"g":56.9},{"s":0,"g":57.7},{"s":0,"g":58.6},{"s":0,"g":59.4},{"s":0,"g":60.3},{"s":0,"g":61.1},{"s":0,"g":62.0},{"s":0,"g":62.8},{"s":0,"g":63.7},{"s":0,"g":64.5},{"s":0,"g":65.4},{"s":0,"g":66.2},{"s":0,"g":67.1},{"s":0,"g":67.9},{"s":0,"g":68.8},{"s":0,"g":69.6},{"s":0,"g":70.5},{"s":0,"g":71.3},{"s":0,"g":72.2},{"s":0,"g":73.0},{"s":0,"g":73.9},{"s":0,"g":74.7},{"s":0,"g":75.6},{"s":0,"g":76.4},{"s":0,"g":77.3},{"s":0,"g":78.1},{"s":0,"g":79.0},{"s":0,"g":79.8},{"s":0,"g":80.7},{"s":0,"g":81.5},{"s":0,"g":82.4},{"s":0,"g":83.2},{"s":0,"g":84.1},{"s":0,"g":84.9},{"s":0,"g":85.8},{"s":0,"g":86.6},{"s":0,"g":87.5},{"s":0,"g":88.3},{"s":0,"g":89.2},{"s":0,"g":90.0},{"s":0,"g":90.9},{"s":0,"g":91.7},{"s":0,"g":92.6},{"s":0,"g":93.4},{"s":0,"g":94.3},
{"s":25,"g":6.6},{"s":25,"g":10.6},{"s":25,"g":11.8},{"s":25,"g":13.0},{"s":25,"g":14.2},{"s":25,"g":15.4},{"s":25,"g":16.6},{"s":25,"g":17.8},{"s":25,"g":19.0},{"s":25,"g":20.2},{"s":25,"g":21.4},{"s":25,"g":22.6},{"s":25,"g":23.8},{"s":25,"g":24.7},{"s":25,"g":25.9},{"s":25,"g":26.8},{"s":25,"g":27.6},{"s":25,"g":28.5},{"s":25,"g":29.3},{"s":25,"g":30.2},{"s":25,"g":31.0},{"s":25,"g":31.9},{"s":25,"g":32.7},{"s":25,"g":33.6},{"s":25,"g":34.4},{"s":25,"g":35.3},{"s":25,"g":36.1},{"s":25,"g":37.0},{"s":25,"g":37.8},{"s":25,"g":38.7},{"s":25,"g":39.5},{"s":25,"g":40.4},{"s":25,"g":41.2},{"s":25,"g":42.1},{"s":25,"g":42.9},{"s":25,"g":43.8},{"s":25,"g":44.6},{"s":25,"g":45.5},{"s":25,"g":46.3},{"s":25,"g":47.2},{"s":25,"g":48.0},{"s":25,"g":48.9},{"s":25,"g":49.7},{"s":25,"g":50.6},{"s":25,"g":51.4},{"s":25,"g":52.3},{"s":25,"g":53.3},{"s":25,"g":54.4},{"s":25,"g":55.5},{"s":25,"g":56.6},{"s":25,"g":57.7},{"s":25,"g":58.8},{"s":25,"g":59.9},{"s":25,"g":61.0},{"s":25,"g":62.1},{"s":25,"g":63.2},{"s":25,"g":64.3},{"s":25,"g":65.4},{"s":25,"g":66.5},{"s":25,"g":67.6},{"s":25,"g":68.7},{"s":25,"g":69.8},{"s":25,"g":70.9},{"s":25,"g":72.0},{"s":25,"g":73.1},{"s":25,"g":74.2},{"s":25,"g":75.3},{"s":25,"g":76.4},{"s":25,"g":77.5},{"s":25,"g":78.6},{"s":25,"g":79.7},{"s":25,"g":80.8},{"s":25,"g":81.9},{"s":25,"g":83.0},{"s":25,"g":84.5},{"s":25,"g":86.1},{"s":25,"g":87.7},{"s":25,"g":90.4},{"s":25,"g":93.2},{"s":25,"g":94.4},{"s":25,"g":95.6},{"s":25,"g":97.1},{"s":25,"g":100.6},{"s":25,"g":101.6},{"s":25,"g":105.3},{"s":25,"g":110.2},
{"s":25,"g":26.3},{"s":25,"g":27.2},{"s":25,"g":28.0},{"s":25,"g":28.9},{"s":25,"g":29.7},{"s":25,"g":30.6},{"s":25,"g":31.4},{"s":25,"g":32.3},{"s":25,"g":33.1},{"s":25,"g":34.0},{"s":25,"g":34.8},{"s":25,"g":35.7},{"s":25,"g":36.5},{"s":25,"g":37.4},{"s":25,"g":38.2},{"s":25,"g":39.1},{"s":25,"g":39.9},{"s":25,"g":40.8},{"s":25,"g":41.6},{"s":25,"g":42.5},{"s":25,"g":43.3},{"s":25,"g":44.2},{"s":25,"g":45.0},{"s":25,"g":45.9},{"s":25,"g":46.7},{"s":25,"g":47.6},{"s":25,"g":48.4},{"s":25,"g":49.3},{"s":25,"g":50.1},{"s":25,"g":51.0},{"s":25,"g":51.8},
{"s":50,"g":0.6},{"s":50,"g":3.2},{"s":50,"g":4.4},{"s":50,"g":5.6},{"s":50,"g":6.8},{"s":50,"g":7.9},{"s":50,"g":9.5},{"s":50,"g":10.4},{"s":50,"g":11.2},{"s":50,"g":12.1},{"s":50,"g":12.9},{"s":50,"g":13.8},{"s":50,"g":14.6},{"s":50,"g":15.5},{"s":50,"g":16.3},{"s":50,"g":17.2},{"s":50,"g":18.0},{"s":50,"g":18.9},{"s":50,"g":19.7},{"s":50,"g":20.6},{"s":50,"g":21.4},{"s":50,"g":22.3},{"s":50,"g":23.1},{"s":50,"g":24.0},{"s":50,"g":24.8},{"s":50,"g":25.7},{"s":50,"g":26.5},{"s":50,"g":27.4},{"s":50,"g":28.2},{"s":50,"g":29.1},{"s":50,"g":29.9},{"s":50,"g":30.8},{"s":50,"g":31.6},{"s":50,"g":32.5},{"s":50,"g":33.3},{"s":50,"g":34.2},{"s":50,"g":35.0},{"s":50,"g":35.9},{"s":50,"g":36.7},{"s":50,"g":37.6},{"s":50,"g":38.4},{"s":50,"g":39.3},{"s":50,"g":40.1},{"s":50,"g":41.0},{"s":50,"g":41.8},{"s":50,"g":42.7},{"s":50,"g":43.5},{"s":50,"g":44.4},{"s":50,"g":45.2},{"s":50,"g":46.1},{"s":50,"g":46.9},{"s":50,"g":47.8},{"s":50,"g":48.6},{"s":50,"g":49.5},{"s":50,"g":50.3},{"s":50,"g":51.2},{"s":50,"g":52.0},{"s":50,"g":52.9},{"s":50,"g":53.7},{"s":50,"g":54.6},{"s":50,"g":55.4},{"s":50,"g":56.3},{"s":50,"g":57.1},{"s":50,"g":58.0},{"s":50,"g":58.8},{"s":50,"g":59.7},{"s":50,"g":60.5},{"s":50,"g":61.4},{"s":50,"g":62.2},{"s":50,"g":63.1},{"s":50,"g":63.9},{"s":50,"g":64.8},{"s":50,"g":65.6},{"s":50,"g":66.5},{"s":50,"g":67.3},{"s":50,"g":68.1},{"s":50,"g":69.7},{"s":50,"g":70.8},{"s":50,"g":71.9},{"s":50,"g":73.0},{"s":50,"g":74.1},{"s":50,"g":75.2},{"s":50,"g":76.3},{"s":50,"g":77.4},{"s":50,"g":78.5},{"s":50,"g":79.6},{"s":50,"g":80.7},{"s":50,"g":83.1},{"s":50,"g":85.4},{"s":50,"g":87.3},{"s":50,"g":88.5},{"s":50,"g":89.7},{"s":50,"g":90.9},{"s":50,"g":92.1},{"s":50,"g":93.3},{"s":50,"g":94.8},{"s":50,"g":98.8},{"s":50,"g":100.6},{"s":50,"g":101.4},{"s":50,"g":102.2},{"s":50,"g":104.7},{"s":50,"g":106.6},{"s":50,"g":108.7},
{"s":50,"g":9.9},{"s":50,"g":10.8},{"s":50,"g":11.6},{"s":50,"g":12.5},{"s":50,"g":13.3},{"s":50,"g":14.2},{"s":50,"g":15.0},{"s":50,"g":15.9},{"s":50,"g":16.7},{"s":50,"g":17.6},{"s":50,"g":18.4},{"s":50,"g":19.3},{"s":50,"g":20.1},{"s":50,"g":21.0},{"s":50,"g":21.8},{"s":50,"g":22.7},{"s":50,"g":23.5},{"s":50,"g":24.4},{"s":50,"g":25.2},{"s":50,"g":26.1},{"s":50,"g":26.9},{"s":50,"g":27.8},{"s":50,"g":28.6},{"s":50,"g":29.5},{"s":50,"g":30.3},{"s":50,"g":31.2},{"s":50,"g":32.0},{"s":50,"g":32.9},{"s":50,"g":33.7},{"s":50,"g":34.6},{"s":50,"g":35.4},{"s":50,"g":36.3},{"s":50,"g":37.1},{"s":50,"g":38.0},{"s":50,"g":38.8},{"s":50,"g":39.7},{"s":50,"g":40.5},{"s":50,"g":41.4},{"s":50,"g":42.2},{"s":50,"g":43.1},{"s":50,"g":43.9},{"s":50,"g":44.8},{"s":50,"g":45.6},{"s":50,"g":46.5},{"s":50,"g":47.3},{"s":50,"g":48.2},{"s":50,"g":49.0},{"s":50,"g":49.9},{"s":50,"g":50.7},{"s":50,"g":51.6},{"s":50,"g":52.4},{"s":50,"g":53.3},{"s":50,"g":54.1},{"s":50,"g":55.0},{"s":50,"g":55.8},{"s":50,"g":56.7},{"s":50,"g":57.5},{"s":50,"g":58.4},{"s":50,"g":59.2},{"s":50,"g":60.1},{"s":50,"g":60.9},{"s":50,"g":61.8},{"s":50,"g":62.6},{"s":50,"g":63.5},{"s":50,"g":64.3},{"s":50,"g":65.2},{"s":50,"g":66.0},{"s":50,"g":66.9},{"s":50,"g":67.7},
{"s":75,"g":0.6},{"s":75,"g":2.8},{"s":75,"g":3.6},{"s":75,"g":4.5},{"s":75,"g":5.3},{"s":75,"g":6.2},{"s":75,"g":7.0},{"s":75,"g":7.9},{"s":75,"g":8.7},{"s":75,"g":9.6},{"s":75,"g":10.4},{"s":75,"g":11.3},{"s":75,"g":12.1},{"s":75,"g":13.0},{"s":75,"g":13.8},{"s":75,"g":14.7},{"s":75,"g":15.5},{"s":75,"g":16.4},{"s":75,"g":17.2},{"s":75,"g":18.1},{"s":75,"g":18.9},{"s":75,"g":19.8},{"s":75,"g":20.6},{"s":75,"g":21.5},{"s":75,"g":22.3},{"s":75,"g":23.2},{"s":75,"g":24.0},{"s":75,"g":24.9},{"s":75,"g":25.7},{"s":75,"g":26.6},{"s":75,"g":27.4},{"s":75,"g":28.3},{"s":75,"g":29.1},{"s":75,"g":30.0},{"s":75,"g":30.8},{"s":75,"g":31.7},{"s":75,"g":32.5},{"s":75,"g":33.4},{"s":75,"g":34.2},{"s":75,"g":35.1},{"s":75,"g":35.9},{"s":75,"g":36.8},{"s":75,"g":37.6},{"s":75,"g":38.5},{"s":75,"g":39.3},{"s":75,"g":40.2},{"s":75,"g":41.0},{"s":75,"g":41.9},{"s":75,"g":42.7},{"s":75,"g":43.6},{"s":75,"g":44.4},{"s":75,"g":45.3},{"s":75,"g":46.1},{"s":75,"g":47.0},{"s":75,"g":47.8},{"s":75,"g":48.7},{"s":75,"g":49.5},{"s":75,"g":50.4},{"s":75,"g":51.2},{"s":75,"g":52.1},{"s":75,"g":53.2},{"s":75,"g":54.3},{"s":75,"g":55.4},{"s":75,"g":56.5},{"s":75,"g":57.6},{"s":75,"g":58.7},{"s":75,"g":59.8},{"s":75,"g":60.9},{"s":75,"g":62.0},{"s":75,"g":63.1},{"s":75,"g":64.2},{"s":75,"g":65.1},{"s":75,"g":65.8},{"s":75,"g":68.4},{"s":75,"g":70.3},{"s":75,"g":71.9},{"s":75,"g":99.7},
{"s":75,"g":3.2},{"s":75,"g":4.1},{"s":75,"g":4.9},{"s":75,"g":5.8},{"s":75,"g":6.6},{"s":75,"g":7.5},{"s":75,"g":8.3},{"s":75,"g":9.2},{"s":75,"g":10.0},{"s":75,"g":10.9},{"s":75,"g":11.7},{"s":75,"g":12.6},{"s":75,"g":13.4},{"s":75,"g":14.3},{"s":75,"g":15.1},{"s":75,"g":16.0},{"s":75,"g":16.8},{"s":75,"g":17.7},{"s":75,"g":18.5},{"s":75,"g":19.4},{"s":75,"g":20.2},{"s":75,"g":21.1},{"s":75,"g":21.9},{"s":75,"g":22.8},{"s":75,"g":23.6},{"s":75,"g":24.5},{"s":75,"g":25.3},{"s":75,"g":26.2},{"s":75,"g":27.0},{"s":75,"g":27.9},{"s":75,"g":28.7},{"s":75,"g":29.6},{"s":75,"g":30.4},{"s":75,"g":31.3},{"s":75,"g":32.1},{"s":75,"g":33.0},{"s":75,"g":33.8},{"s":75,"g":34.7},{"s":75,"g":35.5},{"s":75,"g":36.4},{"s":75,"g":37.2},{"s":75,"g":38.1},{"s":75,"g":38.9},{"s":75,"g":39.8},{"s":75,"g":40.6},{"s":75,"g":41.5},{"s":75,"g":42.3},{"s":75,"g":43.2},{"s":75,"g":44.0},{"s":75,"g":44.9},{"s":75,"g":45.7},{"s":75,"g":46.6},{"s":75,"g":47.4},{"s":75,"g":48.3},{"s":75,"g":49.1},{"s":75,"g":50.0},{"s":75,"g":50.8},{"s":75,"g":51.6},
{"s":100,"g":0.6},{"s":100,"g":2.8},{"s":100,"g":3.6},{"s":100,"g":4.5},{"s":100,"g":5.3},{"s":100,"g":6.2},{"s":100,"g":7.0},{"s":100,"g":7.9},{"s":100,"g":8.7},{"s":100,"g":9.6},{"s":100,"g":10.4},{"s":100,"g":11.3},{"s":100,"g":12.1},{"s":100,"g":13.0},{"s":100,"g":13.8},{"s":100,"g":14.7},{"s":100,"g":15.5},{"s":100,"g":16.4},{"s":100,"g":17.2},{"s":100,"g":18.1},{"s":100,"g":18.9},{"s":100,"g":19.8},{"s":100,"g":20.6},{"s":100,"g":21.5},{"s":100,"g":22.3},{"s":100,"g":23.2},{"s":100,"g":24.0},{"s":100,"g":24.9},{"s":100,"g":25.7},{"s":100,"g":26.6},{"s":100,"g":27.4},{"s":100,"g":28.3},{"s":100,"g":29.1},{"s":100,"g":30.0},{"s":100,"g":30.6},{"s":100,"g":32.1},{"s":100,"g":33.2},{"s":100,"g":34.3},{"s":100,"g":35.4},{"s":100,"g":36.5},{"s":100,"g":37.6},{"s":100,"g":38.7},{"s":100,"g":39.8},{"s":100,"g":40.9},{"s":100,"g":42.0},{"s":100,"g":43.1},{"s":100,"g":44.2},{"s":100,"g":45.3},{"s":100,"g":46.4},{"s":100,"g":47.5},{"s":100,"g":48.6},{"s":100,"g":49.7},{"s":100,"g":50.8},{"s":100,"g":51.9},{"s":100,"g":53.0},{"s":100,"g":54.0},{"s":100,"g":54.8},{"s":100,"g":57.9},{"s":100,"g":63.7},{"s":100,"g":65.5},{"s":100,"g":96.2},{"s":100,"g":97.9},
{"s":100,"g":3.2},{"s":100,"g":4.1},{"s":100,"g":4.9},{"s":100,"g":5.8},{"s":100,"g":6.6},{"s":100,"g":7.5},{"s":100,"g":8.3},{"s":100,"g":9.2},{"s":100,"g":10.0},{"s":100,"g":10.9},{"s":100,"g":11.7},{"s":100,"g":12.6},{"s":100,"g":13.4},{"s":100,"g":14.3},{"s":100,"g":15.1},{"s":100,"g":16.0},{"s":100,"g":16.8},{"s":100,"g":17.7},{"s":100,"g":18.5},{"s":100,"g":19.4},{"s":100,"g":20.2},{"s":100,"g":21.1},{"s":100,"g":21.9},{"s":100,"g":22.8},{"s":100,"g":23.6},{"s":100,"g":24.5},{"s":100,"g":25.3},{"s":100,"g":26.2},{"s":100,"g":27.0},{"s":100,"g":27.9},{"s":100,"g":28.7},{"s":100,"g":29.6},{"s":100,"g":30.3}
]
},
"hconcat": [
{
  "title": {"text": "A", "fontSize": 63, "fontWeight": "bold", "color": "#707070", "anchor": "start", "frame": "bounds", "dx": 31, "offset": -6},
  "vconcat": [{
    "title": {"text": ["Spearman’s correlation coefficient:", "0.723 (p < 0.0001)"], "fontSize": 42, "fontWeight": "normal", "color": "#707070", "lineHeight": 50, "anchor": "middle", "frame": "group", "dx": -67, "offset": 11},
    "width": 956,
    "height": 813,
    "data": {"name": "a"},
    "mark": {"type": "point", "shape": "M0,-1.19A1,1.19 0 1,1 0,1.19A1,1.19 0 1,1 0,-1.19Z", "filled": false, "size": 54, "strokeWidth": 2, "color": "#339999", "opacity": 1},
    "encoding": {
      "x": {"field": "s", "type": "quantitative", "scale": {"domain": [-0.556, 12.567], "nice": false, "zero": false}, "axis": {"values": [0,1,2,3,4,5,6,7,8,9,10,11,12], "title": ["Fine motor domain sub-score", "(higher scores reflect better function)"], "titleX": 485}},
      "y": {"field": "g", "type": "quantitative", "scale": {"domain": [-1.57, 121.1], "nice": false, "zero": false}, "axis": {"values": [0,10,20,30,40,50,60,70,80,90,100,110,120], "labelExpr": "datum.value % 20 == 0 ? datum.label : ''", "title": "Grip strength, lbs"}}
    }
  }]
},
{
  "title": {"text": "B", "fontSize": 63, "fontWeight": "bold", "color": "#707070", "anchor": "start", "frame": "bounds", "dx": 42, "offset": -6},
  "vconcat": [{
    "title": {"text": ["Spearman’s correlation coefficient:", "-0.634 (p < 0.0001)"], "fontSize": 42, "fontWeight": "normal", "color": "#707070", "lineHeight": 50, "anchor": "middle", "frame": "group", "dx": 8, "offset": 11},
    "width": 657,
    "height": 813,
    "data": {"name": "b"},
    "mark": {"type": "point", "shape": "M0,-1.19A1,1.19 0 1,1 0,1.19A1,1.19 0 1,1 0,-1.19Z", "filled": false, "size": 54, "strokeWidth": 2, "color": "#339999", "opacity": 1},
    "encoding": {
      "x": {"field": "s", "type": "quantitative", "scale": {"domain": [-12.7, 107.5], "nice": false, "zero": false}, "axis": {"values": [0,25,50,75,100], "title": ["ALSAQ-5 Question 2 score", "(higher scores reflect worse function)"], "titleX": 290}},
      "y": {"field": "g", "type": "quantitative", "scale": {"domain": [-1.57, 121.1], "nice": false, "zero": false}, "axis": {"values": [0,10,20,30,40,50,60,70,80,90,100,110,120], "labelExpr": "datum.value % 20 == 0 ? datum.label : ''", "title": "Grip strength, lbs"}}
    }
  }]
}
]
}
